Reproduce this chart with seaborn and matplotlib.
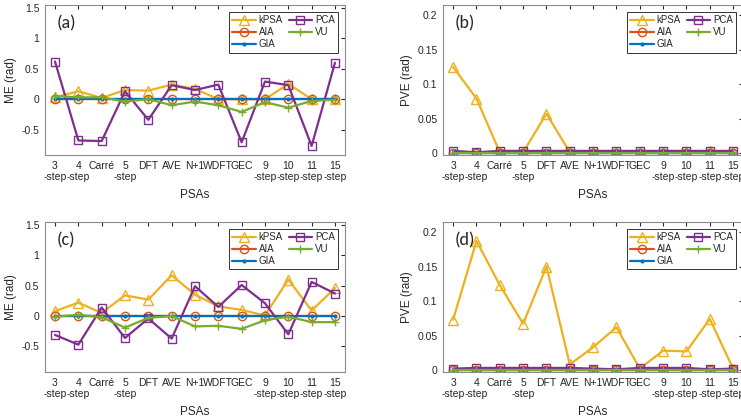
import numpy as np
import pandas as pd
import matplotlib
matplotlib.use('Agg')
import matplotlib.pyplot as plt
import seaborn as sns

psas = ['3\n-step', '4\n-step', 'Carré', '5\n-step', 'DFT', 'AVE', 'N+1', 'WDFT', 'GEC',
        '9\n-step', '10\n-step', '11\n-step', '15\n-step']
methods = ['kPSA', 'AIA', 'GIA', 'PCA', 'VU']

# (a) ME, case 1
me1_kpsa = [0.03, 0.13, 0.02, 0.15, 0.14, 0.24, 0.17, 0.0, 0.0, 0.0, 0.25, 0.0, 0.0]
me1_aia = [0.0] * 13
me1_gia = [0.0] * 13
me1_pca = [0.62, -0.68, -0.69, 0.13, -0.34, 0.23, 0.15, 0.24, -0.71, 0.29, 0.23, -0.77, 0.60]
me1_vu = [0.05, 0.03, 0.03, -0.04, 0.0, -0.10, -0.04, -0.10, -0.21, -0.05, -0.14, -0.03, -0.01]

# (b) PVE, case 1
pve1_kpsa = [0.125, 0.079, 0.001, 0.001, 0.057, 0.001, 0.001, 0.002, 0.001, 0.001, 0.001, 0.003, 0.001]
pve1_aia = [0.0] * 13
pve1_gia = [0.0] * 13
pve1_pca = [0.003, 0.001, 0.003, 0.003, 0.003, 0.003, 0.003, 0.003, 0.003, 0.003, 0.003, 0.003, 0.003]
pve1_vu = [0.0005] * 13

# (c) ME, case 2
me2_kpsa = [0.08, 0.22, 0.05, 0.34, 0.27, 0.67, 0.35, 0.16, 0.10, 0.01, 0.60, 0.09, 0.46]
me2_aia = [0.0] * 13
me2_gia = [0.0] * 13
me2_pca = [-0.31, -0.47, 0.14, -0.36, -0.04, -0.37, 0.49, 0.15, 0.51, 0.21, -0.30, 0.56, 0.37]
me2_vu = [-0.01, 0.02, -0.02, -0.19, -0.03, 0.0, -0.17, -0.16, -0.21, -0.07, -0.01, -0.10, -0.10]

# (d) PVE, case 2
pve2_kpsa = [0.073, 0.187, 0.123, 0.067, 0.150, 0.008, 0.033, 0.062, 0.002, 0.028, 0.027, 0.074, 0.002]
pve2_aia = [0.0] * 13
pve2_gia = [0.0] * 13
pve2_pca = [0.002, 0.003, 0.003, 0.003, 0.003, 0.003, 0.002, 0.001, 0.003, 0.003, 0.003, 0.001, 0.002]
pve2_vu = [0.0] * 13

sns.set_style('white')
plt.rcParams['font.family'] = ['Liberation Sans', 'DejaVu Sans']

styles = {
    'kPSA': dict(color='#EDB120', marker='^', ms=7, mfc='none'),
    'AIA': dict(color='#D95319', marker='o', ms=6, mfc='none'),
    'GIA': dict(color='#0072BD', marker='.', ms=4),
    'PCA': dict(color='#7E2F8E', marker='s', ms=5.5, mfc='none'),
    'VU': dict(color='#77AC30', marker='+', ms=6),
}

panels = [
    ('(a)', 'ME (rad)', [me1_kpsa, me1_aia, me1_gia, me1_pca, me1_vu], [0.0607, 0.630, 0.4049, 0.358]),
    ('(b)', 'PVE (rad)', [pve1_kpsa, pve1_aia, pve1_gia, pve1_pca, pve1_vu], [0.598, 0.630, 0.4049, 0.358]),
    ('(c)', 'ME (rad)', [me2_kpsa, me2_aia, me2_gia, me2_pca, me2_vu], [0.0607, 0.112, 0.4049, 0.359]),
    ('(d)', 'PVE (rad)', [pve2_kpsa, pve2_aia, pve2_gia, pve2_pca, pve2_vu], [0.598, 0.112, 0.4049, 0.359]),
]

fig = plt.figure(figsize=(7.41, 4.19), dpi=100)
x = np.arange(len(psas))

for tag, ylab, series, rect in panels:
    ax = fig.add_axes(rect)
    df = pd.DataFrame({'x': np.tile(x, len(methods)),
                       'y': np.concatenate(series),
                       'method': np.repeat(methods, len(psas))})
    for m in methods:
        st = styles[m]
        sub = df[df['method'] == m]
        sns.lineplot(data=sub, x='x', y='y', ax=ax, color=st['color'], marker=st['marker'],
                     markersize=st['ms'], markerfacecolor=st.get('mfc', st['color']),
                     markeredgecolor=st['color'], markeredgewidth=1.0, linewidth=1.6,
                     label=m)
    ax.set_xlim(-0.43, 12.43)
    if ylab.startswith('ME'):
        ax.set_ylim(-0.92, 1.55)
        ax.set_yticks([-0.5, 0, 0.5, 1, 1.5])
        ax.set_yticklabels(['-0.5', '0', '0.5', '1', '1.5'])
    else:
        ax.set_ylim(-0.003, 0.215)
        ax.set_yticks([0, 0.05, 0.1, 0.15, 0.2])
        ax.set_yticklabels(['0', '0.05', '0.1', '0.15', '0.2'])
    ax.set_xticks(x)
    ax.set_xticklabels(psas, linespacing=1.15)
    ax.tick_params(direction='in', length=3, labelsize=7.5, colors='#262626',
                   top=True, right=True, pad=4)
    for s in ax.spines.values():
        s.set_color('#8c8c8c')
        s.set_linewidth(0.8)
    ax.set_xlabel('PSAs', fontsize=8.5, color='#262626', labelpad=5)
    ax.set_ylabel(ylab, fontsize=8.5, color='#262626', labelpad=3)
    ax.text(0.04, 0.93, tag, transform=ax.transAxes, fontsize=13, va='top', ha='left',
            family=['Carlito', 'Liberation Sans', 'DejaVu Sans'])
    leg = ax.legend(loc='upper right', bbox_to_anchor=(0.977, 0.953), borderaxespad=0,
                    ncol=2, fontsize=7, handlelength=2.4, columnspacing=0.6,
                    handletextpad=0.3, labelspacing=0.2, borderpad=0.35,
                    fancybox=False, framealpha=1)
    leg.get_frame().set_edgecolor('#333333')
    leg.get_frame().set_linewidth(0.7)

fig.savefig('out.png', dpi=100)
